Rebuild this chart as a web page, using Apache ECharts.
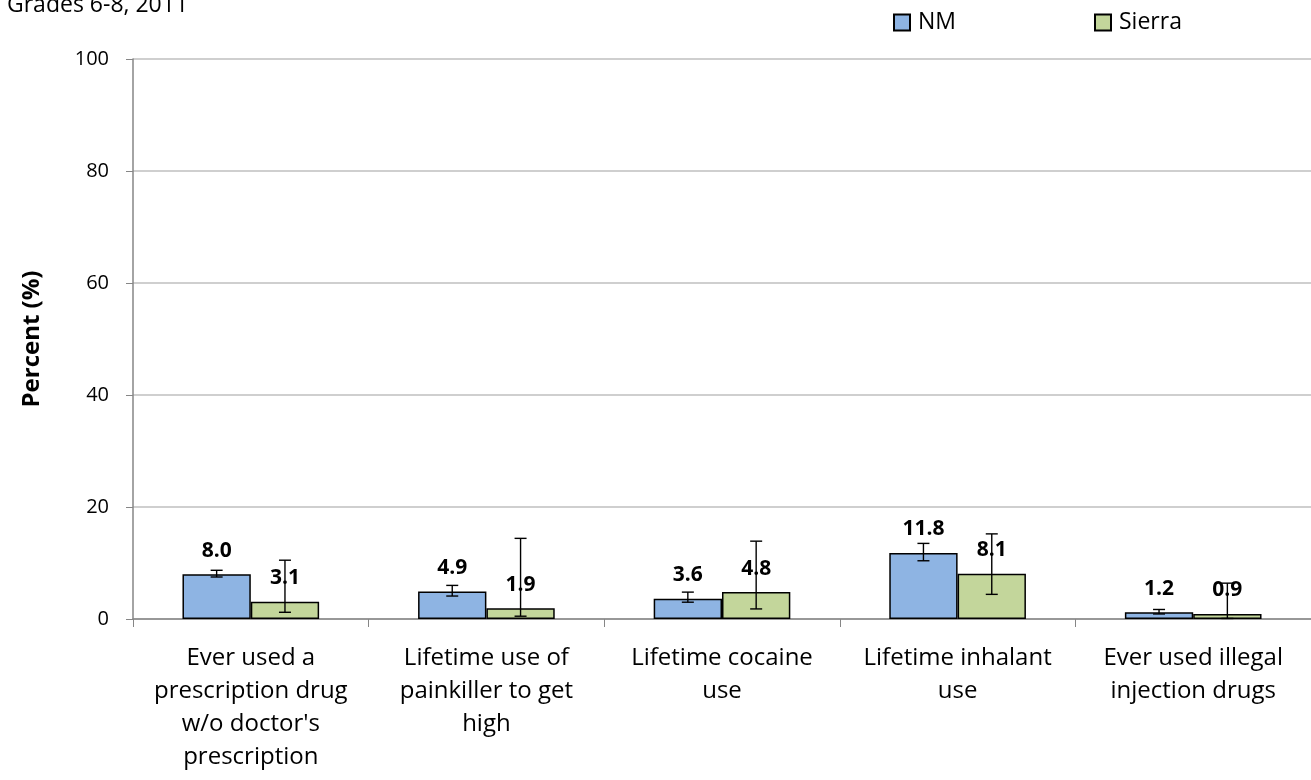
<!DOCTYPE html>
<html>
<head>
<meta charset="utf-8">
<script src="https://cdn.jsdelivr.net/npm/echarts@6/dist/echarts.min.js"></script>
<style>
html,body{margin:0;padding:0;background:#fff;}
#chart{width:1311px;height:780px;}
</style>
</head>
<body>
<div id="chart"></div>
<script>
const categories = [
  "Ever used a\nprescription drug\nw/o doctor's\nprescription",
  "Lifetime use of\npainkiller to get\nhigh",
  "Lifetime cocaine\nuse",
  "Lifetime inhalant\nuse",
  "Ever used illegal\ninjection drugs"
];
const nmValues = [8.0, 4.9, 3.6, 11.8, 1.2];
const sierraValues = [3.1, 1.9, 4.8, 8.1, 0.9];
const nmLow = [7.5, 4.1, 3.0, 10.4, 0.9];
const nmHigh = [8.7, 6.0, 4.8, 13.5, 1.7];
const sierraLow = [1.2, 0.5, 1.8, 4.4, 0.1];
const sierraHigh = [10.5, 14.4, 13.9, 15.2, 6.4];
const yTicks = [0, 20, 40, 60, 80, 100];

const FONT = '"Open Sans"';
const CAT_GAP = 0.42;

function errorSeries(name, lows, highs, side) {
  return {
    type: 'custom',
    name: name + ' CI',
    z: 5,
    silent: true,
    data: categories.map((c, i) => [i, lows[i], highs[i]]),
    renderItem: function (params, api) {
      const idx = api.value(0);
      const lo = api.coord([idx, api.value(1)]);
      const hi = api.coord([idx, api.value(2)]);
      const band = api.size([1, 0])[0];
      const bw = band * (1 - CAT_GAP) / 2;
      const x = lo[0] + side * bw / 2;
      const cap = 6;
      const style = { stroke: '#000', lineWidth: 1.4 };
      return {
        type: 'group',
        children: [
          { type: 'line', shape: { x1: x, y1: lo[1], x2: x, y2: hi[1] }, style: style },
          { type: 'line', shape: { x1: x - cap, y1: lo[1], x2: x + cap, y2: lo[1] }, style: style },
          { type: 'line', shape: { x1: x - cap, y1: hi[1], x2: x + cap, y2: hi[1] }, style: style }
        ]
      };
    }
  };
}

const barLabel = {
  show: true,
  position: 'top',
  distance: 13,
  fontFamily: FONT,
  fontWeight: 'bold',
  fontSize: 21,
  color: '#000',
  formatter: p => p.value.toFixed(1)
};

const legendBase = {
  top: 11, padding: 0, icon: 'rect', itemWidth: 16, itemHeight: 16, itemGap: 8,
  textStyle: { fontFamily: FONT, fontSize: 23, color: '#000', padding: [0, 0, 0, 3] }
};

const chart = echarts.init(document.getElementById('chart'), null, { renderer: 'canvas' });
chart.setOption({
  animation: false,
  backgroundColor: '#fff',
  textStyle: { fontFamily: FONT },
  graphic: [{
    type: 'text',
    left: 7,
    top: -6,
    style: { text: 'Grades 6-8, 2011', font: '23px ' + FONT, fill: '#000' }
  }],
  legend: [
    Object.assign({ left: 893, data: ['NM'] }, legendBase),
    Object.assign({ left: 1094, data: ['Sierra'] }, legendBase)
  ],
  grid: { left: 133, right: 0, top: 59, bottom: 161, containLabel: false },
  xAxis: {
    type: 'category',
    data: categories,
    axisLine: { lineStyle: { color: '#868686', width: 1.5 } },
    axisTick: { show: true, length: 8, lineStyle: { color: '#868686' } },
    axisLabel: {
      fontFamily: FONT, fontSize: 24, color: '#000', lineHeight: 33, margin: 23, interval: 0
    }
  },
  yAxis: {
    type: 'value',
    min: 0, max: 100, interval: 20,
    name: 'Percent (%)',
    nameLocation: 'middle',
    nameGap: 89,
    nameRotate: 90,
    nameTextStyle: { fontFamily: FONT, fontWeight: 'bold', fontSize: 24, color: '#000' },
    axisLine: { show: true, lineStyle: { color: '#868686', width: 1.5 } },
    axisTick: { show: true, inside: false, length: 7, lineStyle: { color: '#868686' } },
    axisLabel: {
      fontFamily: FONT, fontSize: 20, color: '#000', margin: 24,
      formatter: v => (yTicks.includes(v) ? String(v) : '')
    },
    splitLine: { lineStyle: { color: '#BFBFBF', width: 1.5 } }
  },
  series: [
    {
      name: 'NM', type: 'bar', data: nmValues,
      barGap: '0%', barCategoryGap: (CAT_GAP * 100) + '%',
      itemStyle: { color: '#8EB4E3', borderColor: '#000', borderWidth: 1.5 },
      label: barLabel, z: 2
    },
    {
      name: 'Sierra', type: 'bar', data: sierraValues,
      barGap: '0%', barCategoryGap: (CAT_GAP * 100) + '%',
      itemStyle: { color: '#C3D69B', borderColor: '#000', borderWidth: 1.5 },
      label: barLabel, z: 2
    },
    errorSeries('NM', nmLow, nmHigh, -1),
    errorSeries('Sierra', sierraLow, sierraHigh, 1)
  ]
});
</script>
</body>
</html>
